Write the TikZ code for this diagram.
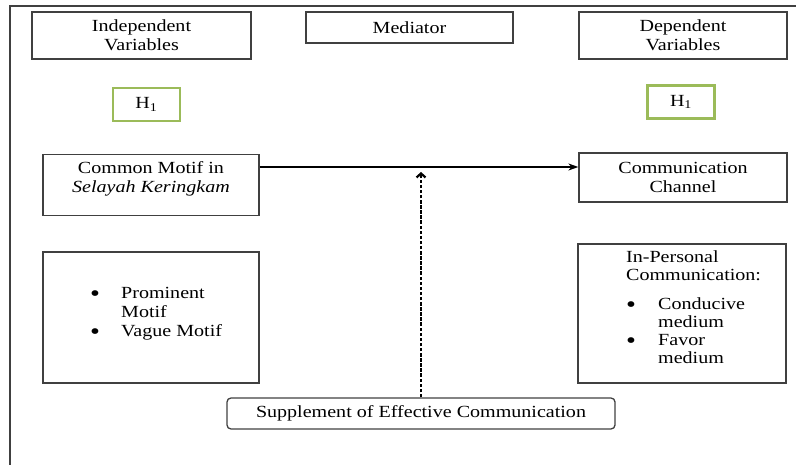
\documentclass[tikz,border=0pt]{standalone}
\usepackage{fontspec}
\setmainfont{Liberation Serif}[FakeStretch=1.18]
\usepackage{tikz}
\usetikzlibrary{arrows.meta, positioning}
\definecolor{framegray}{RGB}{64,64,64}
\definecolor{hypgreen}{RGB}{155,187,89}
\newcommand{\listdot}{\raisebox{-3pt}{\fontsize{24}{19}\selectfont\textbullet}}

\begin{document}
\begin{tikzpicture}[
    x=1pt, y=-1pt,
    font=\fontsize{17}{19}\selectfont,
    varbox/.style={rectangle, draw=framegray, line width=1.3pt, align=center, inner sep=0pt},
    hyp/.style={rectangle, draw=hypgreen, line width=2.6pt, minimum width=67pt, minimum height=33pt, inner sep=0pt},
    suppbox/.style={rectangle, draw=framegray, line width=1.3pt, rounded corners=4pt, minimum width=388pt, minimum height=31pt, inner sep=0pt},
    listtext/.style={anchor=base west, inner sep=0pt},
    link/.style={-{Stealth[length=10pt, width=7pt]}, line width=1.3pt, black},
    medlink/.style={-{Straight Barb[length=4pt, width=9pt]}, line width=2.2pt, dash pattern=on 3.5pt off 1.6pt, black}
  ]
    \useasboundingbox (0,0) rectangle (796,465);
    \draw[framegray, line width=1.5pt] (796,6) -- (10,6) -- (10,465);

    % headings
    \node[varbox, minimum width=219pt, minimum height=47pt] (indep) at (141.5,35.5) {Independent\\Variables};
    \node[varbox, minimum width=207pt, minimum height=31pt] (med) at (409.5,27.5) {Mediator};
    \node[varbox, minimum width=208pt, minimum height=47pt] (dep) at (683,35.5) {Dependent\\Variables};
    \node[hyp] (hypA) at (146.5,104.5) {H\textsubscript{1}};
    \node[hyp] (hypB) at (681,102) {H\textsubscript{1}};

    \node[varbox, minimum width=216pt, anchor=north, text height=38pt, text depth=23pt] (motif) at (151,154) {Common Motif in\\\textit{Selayah Keringkam}};
    \node[varbox, minimum width=208pt, minimum height=49pt] (chan) at (683,177.5) {Communication\\Channel};

    % lists
    \node[varbox, minimum width=216pt, minimum height=131pt] (motifbox) at (151,317.5) {};
    \node[listtext] (motiflist) at (90,299) {\begin{tabular}[t]{@{}p{31pt}@{}l@{}}\listdot & Prominent\\ & Motif\\ \listdot & Vague Motif\end{tabular}};
    \node[varbox, minimum width=208pt, minimum height=139pt] (chanbox) at (682,313.5) {};
    \node[listtext] (chanlist) at (626,263) {\fontsize{17}{18}\selectfont\begin{tabular}[t]{@{}p{32pt}@{}l@{}}\multicolumn{2}{@{}l@{}}{In-Personal}\\ \multicolumn{2}{@{}l@{}}{Communication:}\\[11pt] \listdot & Conducive\\ & medium\\ \listdot & Favor\\ & medium\end{tabular}};

    \node[suppbox] (supp) at (421,413.5) {Supplement of Effective Communication};

    \coordinate (tie) at (0,167);
    \draw[link] (motif.east |- tie) -- (chan.west |- tie);
    \draw[medlink] (supp.north) -- ([yshift=-5pt]supp.north |- tie);

\end{tikzpicture}
\end{document}
